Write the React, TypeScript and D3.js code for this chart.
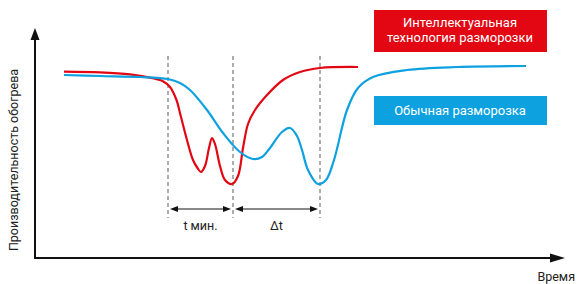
import React, { useEffect, useRef } from "react";
import * as d3 from "d3";

// time (arbitrary units) / heating output (arbitrary units)
const redTime = [5.8, 13, 19, 23, 25.5, 27, 28.3, 29, 30.4, 31.6, 32.5, 33.2, 34, 34.8, 35.4, 36, 37, 38, 39.4, 40.6, 41.6, 42.6, 44, 46.4, 49.6, 53, 57, 64.6];
const redValue = [93.2, 92.8, 91.8, 90.2, 88.5, 85.5, 79, 72.5, 59, 49, 45, 43, 46, 55, 60, 57, 46, 39, 37, 41, 55, 67, 74, 81.5, 89, 93, 95, 95.5];

const blueTime = [5.8, 13, 21, 26.6, 29, 31, 34.4, 37.6, 41, 43.6, 45.4, 47, 49.4, 51, 52.4, 53.4, 54.6, 56.6, 58.2, 59.8, 62.4, 64.6, 67.6, 74.4, 84.4, 98.2];
const blueValue = [91.5, 91, 90.5, 89.5, 87.5, 84, 74, 62.5, 53, 49.5, 50.5, 55, 63, 65, 61, 54, 44, 37, 39, 49, 74, 85, 90.5, 94, 95.5, 96];

const markers = [26.6, 39.6, 57];
const spanLabels = ["t мин.", "Δt"];
const legendRed = ["Интеллектуальная", "технология разморозки"];
const legendBlue = "Обычная разморозка";
const yLabel = "Производительность обогрева";
const xLabel = "Время";

const RED = "#e30613";
const BLUE = "#0ea1e0";

export default function App() {
  const ref = useRef<SVGSVGElement>(null);

  useEffect(() => {
    if (!ref.current) return;
    const svg = d3.select(ref.current);
    svg.selectAll("*").remove();

    const width = 577;
    const height = 284;
    svg.attr("width", width).attr("height", height);

    const x = d3.scaleLinear().domain([0, 106]).range([35, 565]);
    const y = d3.scaleLinear().domain([0, 115]).range([258, 28]);

    const font = "Roboto, 'Noto Sans', sans-serif";

    // axes with arrows
    svg.append("line")
      .attr("x1", x(0)).attr("x2", x(0))
      .attr("y1", y(0) + 1).attr("y2", y(109))
      .attr("stroke", "#111").attr("stroke-width", 2);
    svg.append("path")
      .attr("d", `M${x(0)},${y(115)} L${x(0) - 4.5},${y(109)} L${x(0) + 4.5},${y(109)} Z`)
      .attr("fill", "#111");
    svg.append("line")
      .attr("x1", x(0) - 1).attr("x2", x(103))
      .attr("y1", y(0)).attr("y2", y(0))
      .attr("stroke", "#111").attr("stroke-width", 2);
    svg.append("path")
      .attr("d", `M${x(106)},${y(0)} L${x(103)},${y(0) - 4.5} L${x(103)},${y(0) + 4.5} Z`)
      .attr("fill", "#111");

    svg.append("text")
      .attr("transform", `translate(18,${y(49)}) rotate(-90)`)
      .attr("text-anchor", "middle")
      .attr("font-family", font).attr("font-size", 12.5).attr("fill", "#222")
      .text(yLabel);
    svg.append("text")
      .attr("x", 575).attr("y", 281)
      .attr("text-anchor", "end")
      .attr("font-family", font).attr("font-size", 12.5).attr("fill", "#222")
      .text(xLabel);

    // dashed markers
    svg.selectAll(".marker")
      .data(markers)
      .enter().append("line")
      .attr("x1", (d) => x(d)).attr("x2", (d) => x(d))
      .attr("y1", y(101)).attr("y2", y(20))
      .attr("stroke", "#777").attr("stroke-width", 1.2)
      .attr("stroke-dasharray", "4,3");

    // span arrows
    const spans = d3.pairs(markers);
    const arrowY = y(24.5);
    spans.forEach(([a, b], i) => {
      const x1 = x(a) + 2;
      const x2 = x(b) - 2;
      svg.append("line")
        .attr("x1", x1 + 5).attr("x2", x2 - 5)
        .attr("y1", arrowY).attr("y2", arrowY)
        .attr("stroke", "#111").attr("stroke-width", 1);
      svg.append("path")
        .attr("d", `M${x1},${arrowY} L${x1 + 8},${arrowY - 3} L${x1 + 8},${arrowY + 3} Z`)
        .attr("fill", "#111");
      svg.append("path")
        .attr("d", `M${x2},${arrowY} L${x2 - 8},${arrowY - 3} L${x2 - 8},${arrowY + 3} Z`)
        .attr("fill", "#111");
      svg.append("text")
        .attr("x", (x(a) + x(b)) / 2).attr("y", arrowY + 21)
        .attr("text-anchor", "middle")
        .attr("font-family", font).attr("font-size", 12.5).attr("fill", "#222")
        .text(spanLabels[i]);
    });

    // curves
    const line = d3.line<[number, number]>()
      .x((d) => x(d[0]))
      .y((d) => y(d[1]))
      .curve(d3.curveCatmullRom.alpha(0.5));

    const blueData = blueTime.map((t, i) => [t, blueValue[i]] as [number, number]);
    const redData = redTime.map((t, i) => [t, redValue[i]] as [number, number]);

    svg.append("path")
      .attr("d", line(redData) || "")
      .attr("fill", "none").attr("stroke", RED).attr("stroke-width", 2.2);
    svg.append("path")
      .attr("d", line(blueData) || "")
      .attr("fill", "none").attr("stroke", BLUE).attr("stroke-width", 2.2);

    // legend boxes
    svg.append("rect")
      .attr("x", 374).attr("y", 10).attr("width", 173).attr("height", 42)
      .attr("fill", RED);
    legendRed.forEach((t, i) => {
      svg.append("text")
        .attr("x", 460).attr("y", 27 + i * 15)
        .attr("text-anchor", "middle")
        .attr("font-family", font).attr("font-size", 13).attr("fill", "#fff")
        .text(t);
    });
    svg.append("rect")
      .attr("x", 374).attr("y", 96).attr("width", 173).attr("height", 29)
      .attr("fill", BLUE);
    svg.append("text")
      .attr("x", 460).attr("y", 115)
      .attr("text-anchor", "middle")
      .attr("font-family", font).attr("font-size", 13).attr("fill", "#fff")
      .text(legendBlue);
  }, []);

  return (
    <svg ref={ref} style={{ position: "absolute", left: 0, top: 0 }}></svg>
  );
}
